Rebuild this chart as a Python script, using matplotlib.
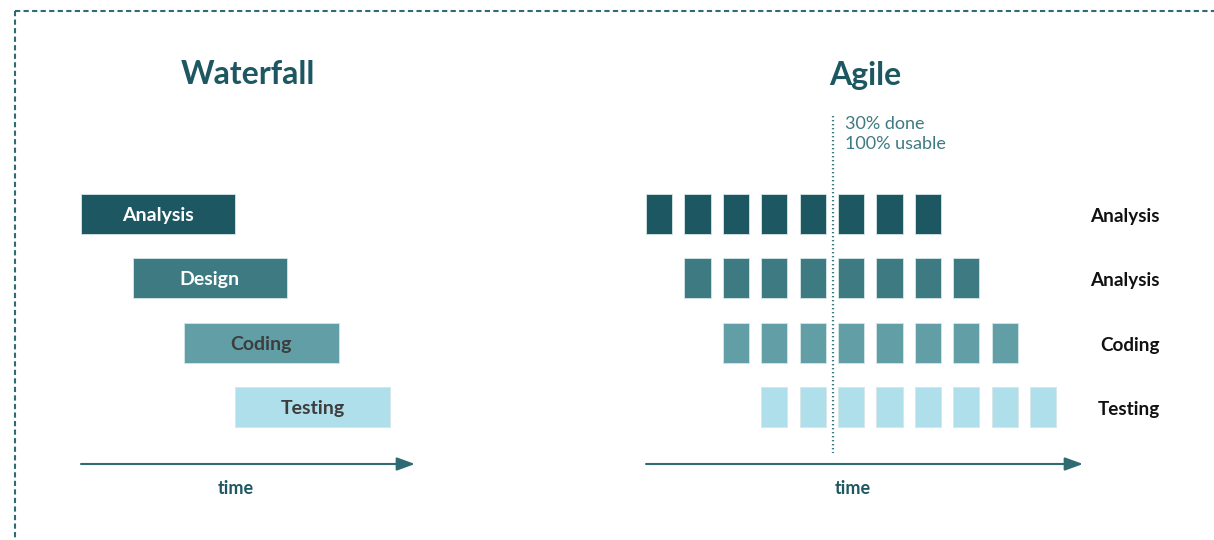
import matplotlib.pyplot as plt
from matplotlib.patches import FancyArrowPatch

plt.rcParams['font.family'] = ['Lato', 'DejaVu Sans']

# data
phases = ['Analysis', 'Design', 'Coding', 'Testing']
wf_start = [0, 1, 2, 3]          # in time units
wf_length = [3, 3, 3, 3]
agile_labels = ['Analysis', 'Analysis', 'Coding', 'Testing']
agile_start = [0, 1, 2, 3]       # first sprint of each row
agile_sprints = [8, 8, 8, 8]
sprint_width = 0.68

colors = ['#1d5761', '#3e7a81', '#629ea6', '#aedfea']
label_colors = ['white', 'white', '#3d3d3d', '#3d3d3d']
teal = '#1d5761'

W, H = 1214, 540
fig = plt.figure(figsize=(W / 100, H / 100), dpi=100)

# background axes in pixel coordinates for decorations
bg = fig.add_axes([0, 0, 1, 1])
bg.set_xlim(0, W)
bg.set_ylim(H, 0)
bg.axis('off')

row0, pitch = 214, 64.3


def make_ax(x0, unit, xmax):
    top_px, bot_px = 100, 500
    ax = fig.add_axes([x0 / W, 1 - bot_px / H, xmax * unit / W, (bot_px - top_px) / H])
    ax.set_xlim(0, xmax)
    ax.set_ylim((bot_px - row0) / pitch, (top_px - row0) / pitch)
    ax.axis('off')
    return ax


# dashed border
bg.plot([15, W], [11, 11], color='#2e6b73', lw=1.5, ls=(0, (2.5, 1.6)))
bg.plot([15, 15], [11, H], color='#2e6b73', lw=1.5, ls=(0, (2.5, 1.6)))

# Waterfall
axw = make_ax(81, 51.5, 6.5)
for i in range(len(phases)):
    axw.barh(i, wf_length[i], left=wf_start[i], height=0.62, color=colors[i],
             edgecolor='#d5e6e8', lw=0.6)
    axw.text(wf_start[i] + wf_length[i] / 2, i, phases[i], ha='center', va='center_baseline',
             fontsize=14, fontweight='bold', color=label_colors[i])

bg.text(248, 75, 'Waterfall', ha='center', va='center', fontsize=23,
        fontweight='bold', color=teal)

# Agile
axa = make_ax(646, 38.4, 11.35)
for i in range(len(agile_labels)):
    for k in range(agile_sprints[i]):
        axa.barh(i, sprint_width, left=agile_start[i] + k, height=0.62,
                 color=colors[i], edgecolor='#d5e6e8', lw=0.6)
    bg.text(1160, row0 + i * pitch + 1, agile_labels[i], ha='right', va='center_baseline',
            fontsize=13.6, fontweight='bold', color='#111111')

bg.text(865, 75, 'Agile', ha='center', va='center', fontsize=23,
        fontweight='bold', color=teal)

# progress marker
bg.plot([833, 833], [116, 453], color='#3e7a81', lw=1.6, ls=(0, (0.6, 1.2)))
bg.text(845, 116, '30% done\n100% usable', ha='left', va='top', fontsize=13,
        color='#3e7a81', linespacing=1.3)

# time arrows
for x0, x1, xt in [(81, 415, 236), (646, 1083, 853)]:
    bg.add_patch(FancyArrowPatch((x0, 464), (x1, 464), arrowstyle='-|>,head_length=5.5,head_width=2',
                                 mutation_scale=2, color='#2e6b73', lw=1.5,
                                 shrinkA=0, shrinkB=0))
    bg.text(xt, 489, 'time', ha='center', va='center', fontsize=13,
            fontweight='bold', color=teal)

fig.savefig('out.png', dpi=100)
